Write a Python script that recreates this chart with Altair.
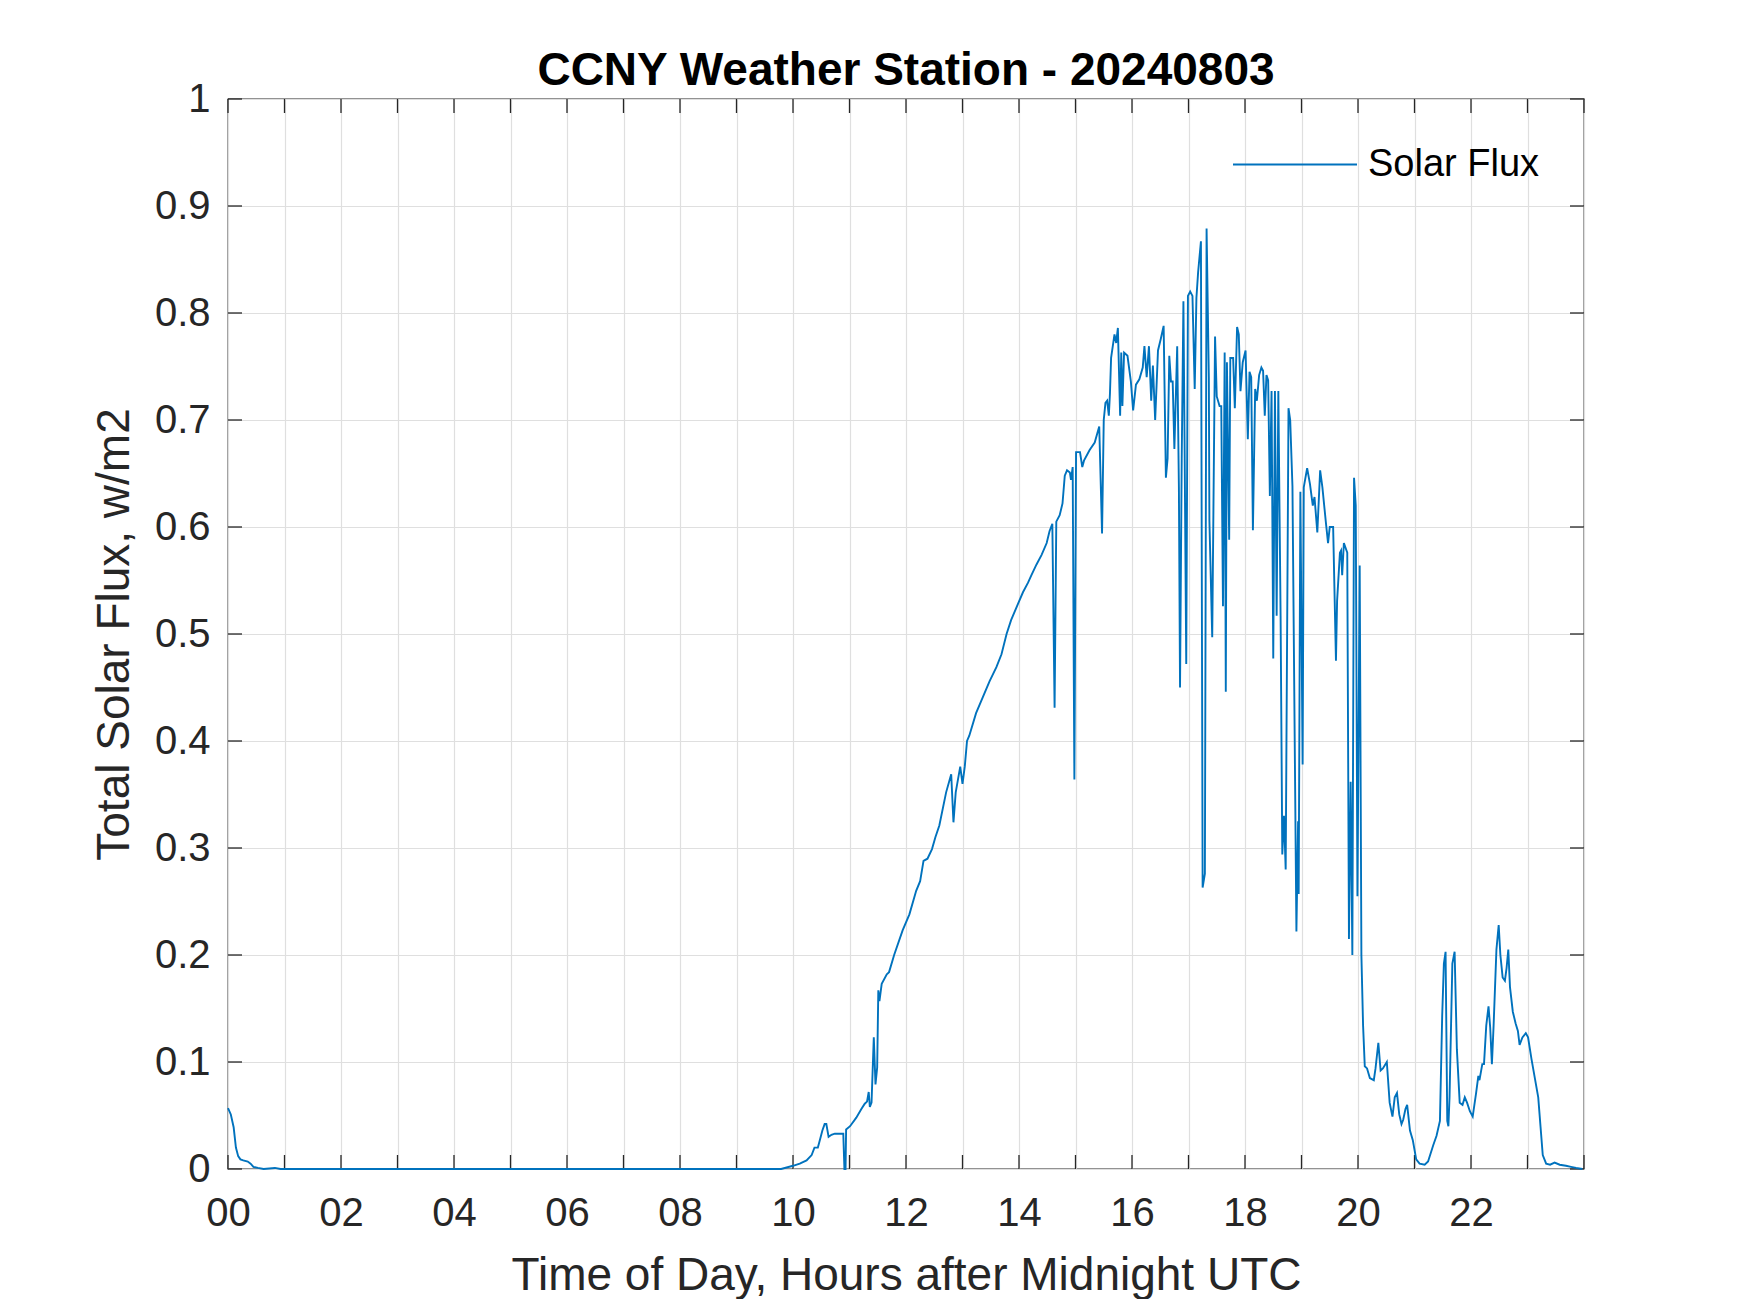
import altair as alt
import pandas as pd

hours = [
    0.00, 0.05, 0.10, 0.14, 0.18, 0.22, 0.27, 0.35, 0.40, 0.45, 0.53, 0.63, 0.83, 0.93,
    9.79, 10.00, 10.12, 10.24, 10.33, 10.38, 10.44, 10.47, 10.52, 10.56, 10.59, 10.63,
    10.68, 10.74, 10.89, 10.91, 10.93, 10.94, 11.01, 11.12, 11.21, 11.27, 11.31, 11.34,
    11.36, 11.39, 11.43, 11.46, 11.49, 11.51, 11.53, 11.57, 11.66, 11.70, 11.79, 11.94,
    12.06, 12.18, 12.25, 12.31, 12.38, 12.46, 12.52, 12.59, 12.71, 12.80, 12.84, 12.88,
    12.96, 13.00, 13.04, 13.08, 13.12, 13.24, 13.36, 13.48, 13.60, 13.69, 13.78, 13.86,
    13.98, 14.07, 14.16, 14.22, 14.31, 14.40, 14.49, 14.54, 14.59, 14.63, 14.66, 14.72,
    14.77, 14.81, 14.85, 14.90, 14.92, 14.95, 14.98, 15.01, 15.08, 15.12, 15.15, 15.25,
    15.34, 15.42, 15.47, 15.50, 15.53, 15.56, 15.59, 15.61, 15.63, 15.69, 15.72, 15.75,
    15.79, 15.81, 15.83, 15.86, 15.92, 15.98, 16.02, 16.07, 16.13, 16.19, 16.22, 16.26,
    16.30, 16.34, 16.37, 16.41, 16.46, 16.51, 16.56, 16.60, 16.63, 16.66, 16.69, 16.72,
    16.75, 16.80, 16.83, 16.85, 16.88, 16.91, 16.93, 16.96, 16.99, 17.03, 17.07, 17.11,
    17.14, 17.17, 17.22, 17.25, 17.29, 17.32, 17.36, 17.37, 17.42, 17.47, 17.50, 17.55,
    17.58, 17.61, 17.64, 17.66, 17.68, 17.72, 17.74, 17.79, 17.82, 17.86, 17.89, 17.92,
    17.96, 18.01, 18.05, 18.08, 18.11, 18.14, 18.18, 18.21, 18.25, 18.29, 18.32, 18.35,
    18.38, 18.41, 18.44, 18.47, 18.50, 18.53, 18.56, 18.59, 18.63, 18.66, 18.69, 18.72,
    18.77, 18.80, 18.84, 18.91, 18.94, 18.95, 18.98, 19.02, 19.04, 19.10, 19.15, 19.20,
    19.23, 19.28, 19.33, 19.37, 19.43, 19.47, 19.50, 19.56, 19.61, 19.63, 19.68, 19.70,
    19.72, 19.75, 19.81, 19.84, 19.87, 19.90, 19.93, 19.96, 19.99, 20.03, 20.04, 20.06,
    20.09, 20.12, 20.16, 20.21, 20.28, 20.31, 20.36, 20.40, 20.44, 20.51, 20.56, 20.61,
    20.65, 20.69, 20.73, 20.77, 20.80, 20.84, 20.87, 20.92, 20.97, 21.03, 21.09, 21.18,
    21.24, 21.33, 21.39, 21.45, 21.49, 21.52, 21.55, 21.58, 21.60, 21.62, 21.67, 21.71,
    21.75, 21.80, 21.85, 21.89, 21.93, 21.98, 22.03, 22.09, 22.13, 22.15, 22.20, 22.23,
    22.27, 22.31, 22.34, 22.37, 22.40, 22.45, 22.49, 22.52, 22.56, 22.60, 22.63, 22.66,
    22.69, 22.74, 22.79, 22.83, 22.86, 22.91, 22.97, 23.01, 23.07, 23.13, 23.19, 23.23,
    23.27, 23.33, 23.40, 23.48, 23.57, 23.68, 23.77, 23.86, 23.97,
]

flux = [
    0.057, 0.051, 0.039, 0.020, 0.012, 0.009, 0.008, 0.007, 0.005, 0.002, 0.001, 0.000, 0.001, 0.000,
    0.000, 0.003, 0.005, 0.008, 0.013, 0.020, 0.020, 0.026, 0.036, 0.042, 0.042, 0.030,
    0.032, 0.033, 0.033, 0.000, 0.000, 0.037, 0.040, 0.048, 0.056, 0.061, 0.063, 0.072,
    0.058, 0.062, 0.123, 0.079, 0.095, 0.167, 0.157, 0.173, 0.182, 0.184, 0.200, 0.223,
    0.238, 0.260, 0.269, 0.288, 0.290, 0.299, 0.310, 0.321, 0.352, 0.369, 0.324, 0.352,
    0.376, 0.360, 0.376, 0.400, 0.405, 0.426, 0.441, 0.456, 0.469, 0.481, 0.500, 0.513,
    0.528, 0.539, 0.548, 0.555, 0.565, 0.574, 0.585, 0.596, 0.603, 0.431, 0.605, 0.611,
    0.622, 0.648, 0.653, 0.651, 0.644, 0.656, 0.364, 0.670, 0.670, 0.656, 0.662, 0.672,
    0.679, 0.694, 0.594, 0.700, 0.716, 0.718, 0.704, 0.725, 0.758, 0.780, 0.772, 0.786,
    0.704, 0.763, 0.713, 0.763, 0.760, 0.736, 0.709, 0.733, 0.738, 0.749, 0.769, 0.740,
    0.769, 0.718, 0.751, 0.700, 0.765, 0.776, 0.788, 0.646, 0.664, 0.760, 0.736, 0.736,
    0.673, 0.769, 0.637, 0.450, 0.664, 0.811, 0.682, 0.472, 0.816, 0.820, 0.816, 0.729,
    0.814, 0.838, 0.867, 0.263, 0.276, 0.879, 0.740, 0.606, 0.497, 0.778, 0.722, 0.713,
    0.713, 0.526, 0.763, 0.446, 0.754, 0.588, 0.758, 0.758, 0.711, 0.787, 0.780, 0.727,
    0.754, 0.765, 0.682, 0.745, 0.740, 0.597, 0.729, 0.718, 0.742, 0.749, 0.746, 0.704,
    0.742, 0.737, 0.629, 0.727, 0.477, 0.727, 0.517, 0.727, 0.517, 0.294, 0.330, 0.280,
    0.711, 0.700, 0.638, 0.222, 0.325, 0.257, 0.633, 0.378, 0.637, 0.655, 0.640, 0.620,
    0.628, 0.595, 0.653, 0.637, 0.605, 0.585, 0.600, 0.600, 0.475, 0.531, 0.576, 0.578,
    0.555, 0.585, 0.576, 0.215, 0.362, 0.200, 0.646, 0.620, 0.255, 0.564, 0.446, 0.200,
    0.134, 0.096, 0.094, 0.085, 0.083, 0.094, 0.118, 0.092, 0.094, 0.100, 0.062, 0.049,
    0.067, 0.071, 0.051, 0.042, 0.046, 0.056, 0.060, 0.036, 0.027, 0.009, 0.005, 0.004,
    0.007, 0.022, 0.031, 0.045, 0.143, 0.192, 0.203, 0.045, 0.040, 0.067, 0.192, 0.203,
    0.112, 0.062, 0.060, 0.067, 0.062, 0.054, 0.049, 0.071, 0.087, 0.083, 0.098, 0.098,
    0.134, 0.152, 0.132, 0.098, 0.134, 0.205, 0.228, 0.200, 0.179, 0.176, 0.188, 0.205,
    0.170, 0.147, 0.136, 0.129, 0.116, 0.123, 0.127, 0.123, 0.103, 0.085, 0.067, 0.040,
    0.013, 0.005, 0.004, 0.006, 0.004, 0.003, 0.002, 0.001, 0.000,
]

x_ticks = list(range(0, 25))
y_ticks = [round(i * 0.1, 1) for i in range(0, 11)]
series_name = "Solar Flux"
title_text = "CCNY Weather Station - 20240803"
x_title = "Time of Day, Hours after Midnight UTC"
y_title = "Total Solar Flux, w/m2"

W, H = 1356, 1070
FONT = "Liberation Sans"
TICK_LEN = 14
AX = "#262626"

df = pd.DataFrame({"hour": hours, "flux": flux, "series": series_name})
xt = pd.DataFrame({"hour": x_ticks})
yt = pd.DataFrame({"flux": y_ticks})

x_scale = alt.Scale(domain=[0, 24], nice=False, zero=False)
y_scale = alt.Scale(domain=[0, 1], nice=False, zero=False)

x_axis = alt.Axis(
    values=x_ticks,
    labelExpr="datum.value % 2 == 0 && datum.value < 24 ? (datum.value < 10 ? '0' + datum.value : '' + datum.value) : ''",
    labelOverlap=False,
    labelFlush=False,
    labelPadding=24,
    labelFont=FONT,
    labelFontSize=40,
    labelColor=AX,
    title=x_title,
    titleFont=FONT,
    titleFontSize=46,
    titleFontWeight="normal",
    titleColor=AX,
    titleX=W / 2,
    titleY=120,
    titleBaseline="alphabetic",
    titleAlign="center",
)
y_axis = alt.Axis(
    values=y_ticks,
    format=".1~f",
    labelOverlap=False,
    labelFlush=False,
    labelPadding=18,
    labelFont=FONT,
    labelFontSize=40,
    labelColor=AX,
    title=y_title,
    titleFont=FONT,
    titleFontSize=46,
    titleFontWeight="normal",
    titleColor=AX,
    titleX=-100,
    titleY=H / 2,
    titleAngle=270,
    titleBaseline="alphabetic",
    titleAlign="center",
)

X = alt.X("hour:Q", scale=x_scale, axis=x_axis)
Y = alt.Y("flux:Q", scale=y_scale, axis=y_axis)

bottom_ticks = alt.Chart(xt).mark_rule(color=AX, strokeWidth=1.3).encode(
    x=X, y=alt.value(H), y2=alt.value(H - TICK_LEN)
)
top_ticks = alt.Chart(xt).mark_rule(color=AX, strokeWidth=1.3).encode(
    x=X, y=alt.value(0), y2=alt.value(TICK_LEN)
)
left_ticks = alt.Chart(yt).mark_rule(color=AX, strokeWidth=1.3).encode(
    y=Y, x=alt.value(0), x2=alt.value(TICK_LEN)
)
right_ticks = alt.Chart(yt).mark_rule(color=AX, strokeWidth=1.3).encode(
    y=Y, x=alt.value(W), x2=alt.value(W - TICK_LEN)
)

line = alt.Chart(df).mark_line(strokeWidth=1.9, interpolate="linear").encode(
    x=X,
    y=Y,
    color=alt.Color(
        "series:N",
        scale=alt.Scale(range=["#0072BD"]),
        legend=alt.Legend(
            orient="none",
            legendX=1004,
            legendY=2.5,
            title=None,
            symbolType="stroke",
            symbolSize=15376,
            symbolStrokeWidth=1.9,
            labelFont=FONT,
            labelFontSize=38,
            labelColor="#000000",
            labelOffset=10,
            labelLimit=600,
            padding=0,
        ),
    ),
)

chart = alt.layer(bottom_ticks, top_ticks, left_ticks, right_ticks, line).properties(
    width=W,
    height=H,
    background="white",
    title=alt.TitleParams(
        title_text,
        font=FONT,
        fontSize=46,
        fontWeight="bold",
        color="#000000",
        anchor="middle",
        offset=-16,
    ),
    autosize=alt.AutoSizeParams(type="none"),
    padding={"left": 220, "top": 91, "right": 150, "bottom": 130},
).configure_view(
    stroke=AX, strokeWidth=1.3
).configure_axis(
    domain=False,
    ticks=False,
    grid=True,
    gridColor="#dfdfdf",
    gridWidth=1.2,
)

chart.save("out.html", embed_options={"renderer": "svg", "actions": False})
